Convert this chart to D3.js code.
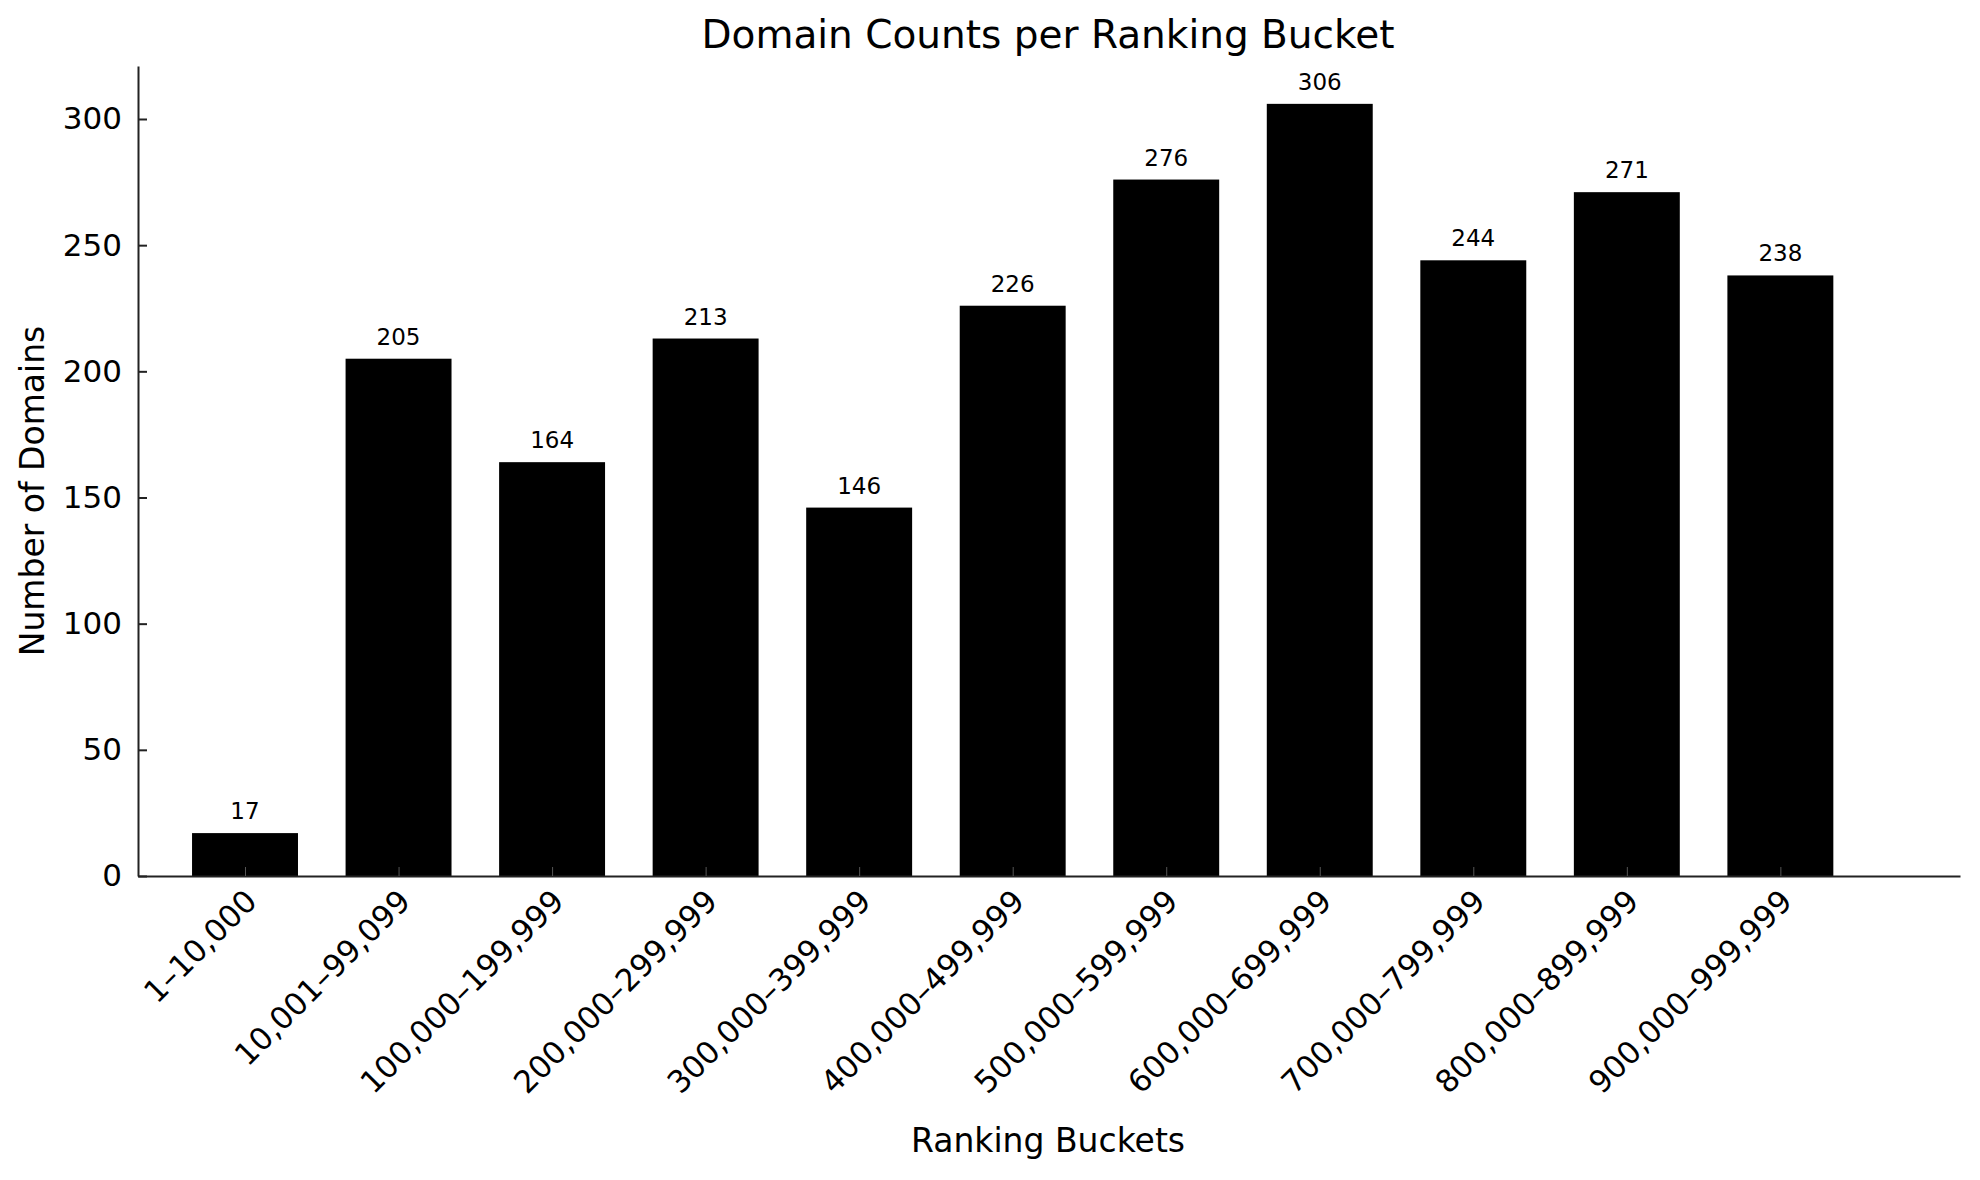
<!DOCTYPE html>
<html><head><meta charset="utf-8">
<script src="https://cdn.jsdelivr.net/npm/d3@7"></script>
<style>body{margin:0;background:#fff;font-family:"DejaVu Sans",sans-serif;}</style>
</head><body><div id="chart"></div>
<script>
var categories = ["1–10,000","10,001–99,099","100,000–199,999","200,000–299,999","300,000–399,999","400,000–499,999","500,000–599,999","600,000–699,999","700,000–799,999","800,000–899,999","900,000–999,999"];
var counts = [17,205,164,213,146,226,276,306,244,271,238];
var yTicks = [0,50,100,150,200,250,300];

var W = 1980, H = 1180;
var mLeft = 138, mRight = 1960, mTop = 66, mBottom = 876;

var svg = d3.select("#chart").append("svg").attr("width", W).attr("height", H);

var x = d3.scaleLinear().domain([-0.697, 11.17]).range([mLeft, mRight]);
var y = d3.scaleLinear().domain([0, 321]).range([mBottom, mTop]);
var bw = 0.69 * (x(1) - x(0));

// bars
svg.selectAll("rect.bar").data(counts).enter().append("rect")
	.attr("x", (d, i) => x(i) - bw / 2)
	.attr("y", d => y(d))
	.attr("width", bw)
	.attr("height", d => y(0) - y(d))
	.attr("fill", "#000");

// value labels
svg.selectAll("text.val").data(counts).enter().append("text")
	.attr("x", (d, i) => x(i))
	.attr("y", d => y(d) - 14)
	.attr("text-anchor", "middle")
	.attr("font-size", 23)
	.text(d => d);

// y axis
var yAxis = svg.append("g").attr("transform", "translate(" + mLeft + ",0)")
	.call(d3.axisLeft(y).tickValues(yTicks).tickSizeInner(-9).tickSizeOuter(0).tickPadding(16));
yAxis.selectAll("text").attr("font-size", 31).attr("font-family", "DejaVu Sans").attr("fill", "#000");

// x axis
var xAxis = svg.append("g").attr("transform", "translate(0," + mBottom + ")")
	.call(d3.axisBottom(x).tickValues(d3.range(categories.length)).tickFormat(i => categories[i]).tickSizeInner(-9).tickSizeOuter(0).tickPadding(12));
xAxis.selectAll("text").attr("font-size", 31).attr("font-family", "DejaVu Sans").attr("fill", "#000")
	.attr("text-anchor", "end").attr("dy", "0.3em")
	.attr("transform", "translate(-2,12) rotate(-45)");
xAxis.selectAll(".tick line").attr("stroke", "#555");
svg.selectAll(".domain").attr("stroke", "#222").attr("stroke-width", 2);
yAxis.selectAll(".tick line").attr("stroke", "#222").attr("stroke-width", 2);

// titles
svg.append("text").attr("x", 1048).attr("y", 48).attr("text-anchor", "middle").attr("font-size", 39).text("Domain Counts per Ranking Bucket");
svg.append("text").attr("x", 1048).attr("y", 1152).attr("text-anchor", "middle").attr("font-size", 33).text("Ranking Buckets");
svg.append("text").attr("transform", "translate(44," + ((mTop + mBottom) / 2 + 20) + ") rotate(-90)").attr("text-anchor", "middle").attr("font-size", 33).text("Number of Domains");
</script></body></html>
